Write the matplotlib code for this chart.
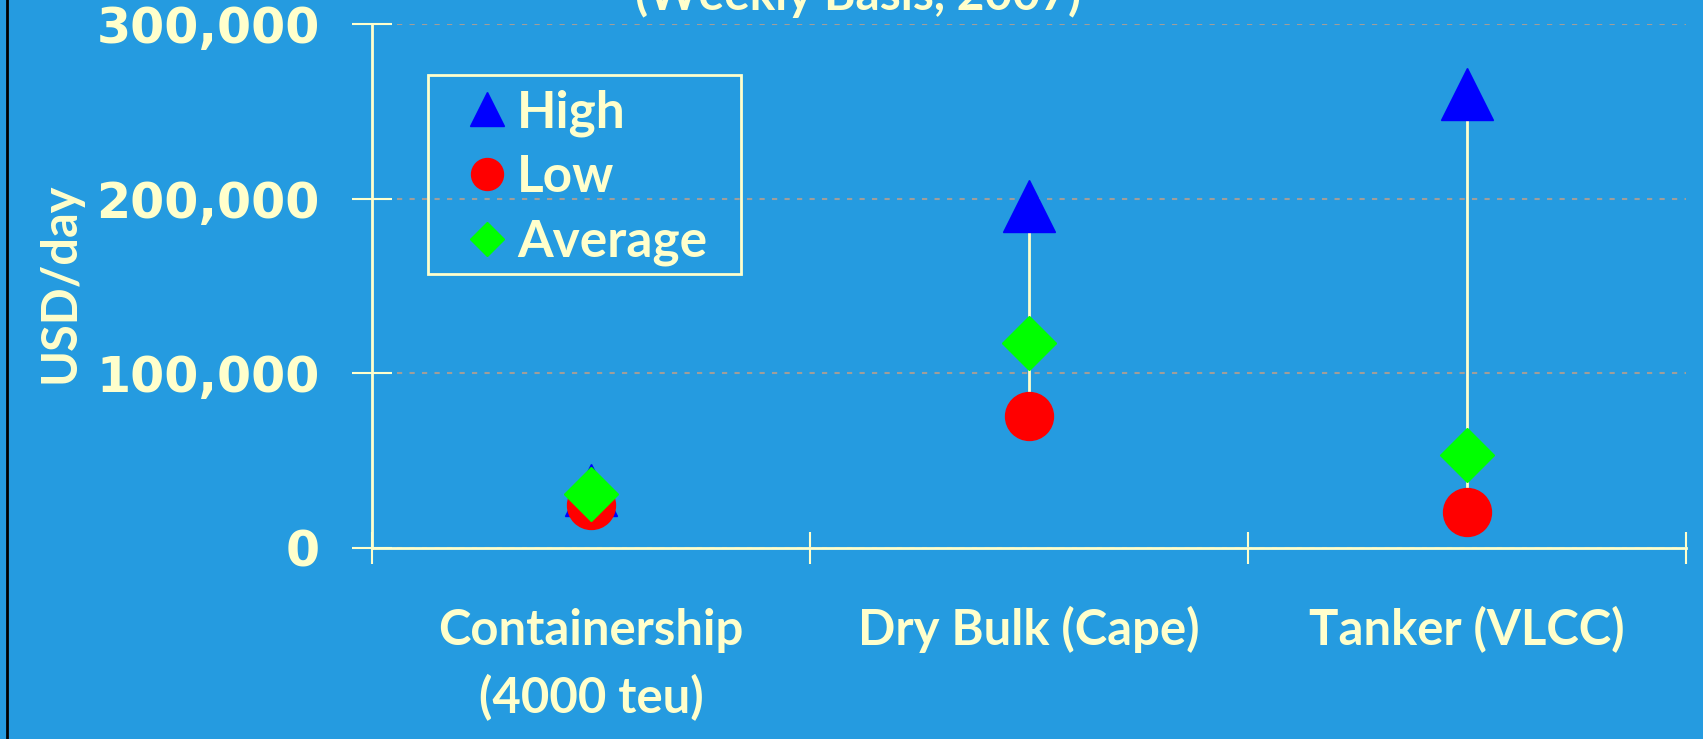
import numpy as np
import matplotlib
matplotlib.use("Agg")
import matplotlib.pyplot as plt
from matplotlib.lines import Line2D
from matplotlib.patches import Rectangle

# chart data (USD/day)
categories = ["Containership\n(4000 teu)", "Dry Bulk (Cape)", "Tanker (VLCC)"]
high = [33000, 196000, 260000]
low = [24500, 75500, 20300]
average = [31000, 117500, 53000]
yticks = [0, 100000, 200000, 300000]

bg = "#259BE0"
cream = "#FFFFCC"
W, H = 1703, 739

fig = plt.figure(figsize=(W / 100, H / 100), dpi=100, facecolor=bg)
ax = fig.add_axes([372 / W, (H - 547.7) / H, (1686 - 372) / W, (547.7 - 24) / H])
ax.set_facecolor(bg)

x = np.arange(len(categories)) + 0.5

# high-low lines behind the markers
ax.vlines(x, low, high, color=cream, lw=2, zorder=2)
ax.plot(x, high, ls="none", marker="^", ms=38, color="#0000FF", mec="#0000FF", zorder=3)
ax.plot(x, low, ls="none", marker="o", ms=34.5, color="#FF0000", mec="#FF0000", zorder=4)
ax.plot(x, average, ls="none", marker="D", ms=27, color="#00FF00", mec="#00FF00", zorder=5)

ax.set_xlim(0, 3)
ax.set_ylim(0, 300000)
ax.set_yticks(yticks)
ax.set_yticklabels([f"{v:,}" for v in yticks], fontsize=35.3, fontweight="bold",
                   color=cream, family="DejaVu Sans")
ax.set_xticks([0, 1, 2, 3])
ax.set_xticklabels([])
ax.tick_params(axis="y", direction="inout", length=29.5, width=1.5, color=cream, pad=22.7)
ax.tick_params(axis="x", direction="inout", length=23.5, width=1.5, color=cream)

for s in ["top", "right"]:
    ax.spines[s].set_visible(False)
for s in ["left", "bottom"]:
    ax.spines[s].set_color(cream)
    ax.spines[s].set_linewidth(2)

ax.yaxis.grid(True, color="#A09E9A", ls=(0, (2.5, 3.5)), lw=1.5)
ax.set_axisbelow(True)

# category labels, one text per line
line_h = 68 / 523.7
for xi, lab in zip(x, categories):
    for j, part in enumerate(lab.split("\n")):
        ax.text(xi, -0.1858 - j * line_h, part, transform=ax.get_xaxis_transform(),
                ha="center", va="baseline", fontsize=35.3, fontweight="bold",
                color=cream, family="Lato")

ax.set_ylabel("USD/day", fontsize=35, fontweight="bold", color=cream, family="Lato")
ax.yaxis.set_label_coords(-(372 - 82) / (1686 - 372), 0.505)

handles = [
    Line2D([], [], ls="none", marker="^", ms=25, color="#0000FF"),
    Line2D([], [], ls="none", marker="o", ms=23, color="#FF0000"),
    Line2D([], [], ls="none", marker="D", ms=17.3, color="#00FF00"),
]
leg = ax.legend(handles, ["High", "Low", "Average"], loc="upper left",
                bbox_to_anchor=((461.3 - 372) / (1686 - 372), (547.7 - 89.4) / (547.7 - 24)),
                prop={"family": "Lato", "weight": "bold", "size": 37},
                labelcolor=cream, frameon=False, borderaxespad=0, borderpad=0,
                handlelength=1.0, handletextpad=0.08, labelspacing=0.34)
# legend box
fig.add_artist(Rectangle((428 / W, 1 - 274 / H), (741 - 428) / W, (274 - 75) / H,
                         transform=fig.transFigure, fill=False, ec=cream, lw=2))

fig.text(858 / W, 1 - 10 / H, "(Weekly Basis, 2007)", ha="center", va="baseline",
         fontsize=34.5, fontweight="bold", color=cream, family="Lato")

# black edge line on the left of the slide
fig.add_artist(Line2D([7 / W, 7 / W], [0, 1], color="black", lw=2, transform=fig.transFigure))

fig.savefig("out.png", dpi=100, facecolor=bg)
